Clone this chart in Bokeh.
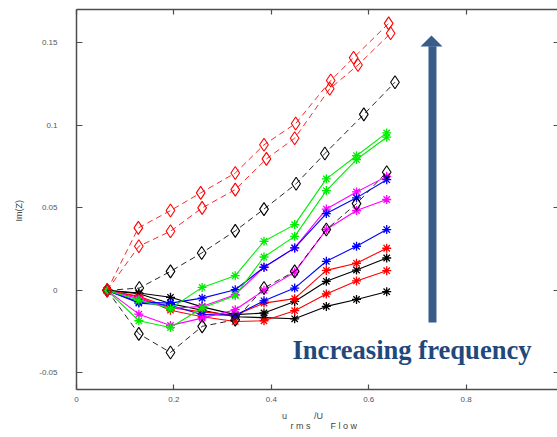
from bokeh.plotting import figure
from bokeh.models import LinearAxis, Range1d, Label, BoxAnnotation, PolyAnnotation, FixedTicker
from bokeh.embed import file_html
from bokeh.resources import INLINE

# ---------------- data ----------------
x_std   = [0.063, 0.128, 0.193, 0.258, 0.326, 0.385, 0.448, 0.513, 0.575, 0.637]
x_red_a = [0.063, 0.127, 0.193, 0.255, 0.326, 0.385, 0.450, 0.522, 0.569, 0.641]
x_red_b = [0.063, 0.128, 0.193, 0.258, 0.326, 0.390, 0.448, 0.520, 0.578, 0.645]
x_blk_c = [0.063, 0.129, 0.193, 0.257, 0.326, 0.385, 0.451, 0.510, 0.590, 0.654]

# dashed lines, diamond markers
red_dia_a = [0, 0.0378, 0.0483, 0.0590, 0.0710, 0.0881, 0.1010, 0.1270, 0.1408, 0.1616]
red_dia_b = [0, 0.0267, 0.0358, 0.0499, 0.0610, 0.0796, 0.0921, 0.1220, 0.1364, 0.1556]
blk_dia_c = [0, 0.0014, 0.0115, 0.0226, 0.0360, 0.0492, 0.0645, 0.0828, 0.1065, 0.1260]
blk_dia_d = [0, -0.0263, -0.0376, -0.0218, -0.0178, 0.0014, 0.0115, 0.0368, 0.0525, 0.0715]

# solid lines, star markers
grn_e = [0, -0.0060, -0.0110, 0.0018, 0.0089, 0.0297, 0.0398, 0.0675, 0.0815, 0.0953]
grn_f = [0, -0.0184, -0.0225, -0.0107, -0.0032, 0.0202, 0.0327, 0.0604, 0.0792, 0.0927]
blu_g = [0, -0.0070, -0.0077, -0.0047, 0.0004, 0.0140, 0.0257, 0.0465, 0.0560, 0.0670]
mag_h = [0, -0.0050, -0.0110, -0.0097, -0.0026, 0.0140, 0.0257, 0.0492, 0.0596, 0.0690]
mag_i = [0, -0.0144, -0.0212, -0.0168, -0.0117, 0.0000, 0.0110, 0.0368, 0.0483, 0.0550]
blu_j = [0, -0.0077, -0.0090, -0.0147, -0.0150, -0.0063, 0.0014, 0.0176, 0.0267, 0.0368]
red_k = [0, -0.0036, -0.0105, -0.0130, -0.0150, -0.0077, -0.0050, 0.0121, 0.0164, 0.0255]
red_l = [0, -0.0040, -0.0120, -0.0160, -0.0188, -0.0184, -0.0123, -0.0022, 0.0057, 0.0119]
blk_m = [0, -0.0016, -0.0042, -0.0100, -0.0147, -0.0137, -0.0067, 0.0055, 0.0123, 0.0196]
blk_n = [0, -0.0020, -0.0080, -0.0120, -0.0160, -0.0165, -0.0172, -0.0097, -0.0055, -0.0008]

x_ticks = [0, 0.2, 0.4, 0.6, 0.8]
y_ticks = [-0.05, 0, 0.05, 0.1, 0.15]
y_tick_labels = {-0.05: "-0.05", 0: "0", 0.05: "0.05", 0.1: "0.1", 0.15: "0.15"}
x_tick_labels = {0: "0", 0.2: "0.2", 0.4: "0.4", 0.6: "0.6", 0.8: "0.8"}

annot_text = "Increasing frequency"
y_label = "Im(Z)"
x_label_main = "u\u2003\u2003\u2003/U\u2003\u2003\u2003\u2009"
x_label_sub = "\u2003\u2002r m s\u2003\u2003\u2009F l o w"

# ---------------- figure ----------------
p = figure(width=557, height=437, output_backend="svg", toolbar_location=None,
           x_range=Range1d(0, 0.9877), y_range=Range1d(-0.06, 0.17),
           min_border_left=76, min_border_right=0, min_border_top=9, min_border_bottom=48,
           background_fill_color="white", border_fill_color="white")
p.outline_line_color = None
p.xgrid.visible = False
p.ygrid.visible = False

AX_COL = "#4d4d4d"
LBL_COL = "#555555"
FONT = "Liberation Sans"

for ax in p.xaxis:
    ax.ticker = FixedTicker(ticks=x_ticks)
    ax.major_label_overrides = x_tick_labels
    ax.major_tick_in = 5
    ax.major_tick_out = 0
    ax.minor_tick_in = 0
    ax.minor_tick_out = 0
    ax.axis_line_color = AX_COL
    ax.axis_line_width = 1.5
    ax.major_tick_line_color = AX_COL
    ax.major_tick_line_width = 1.2
    ax.major_label_text_font = FONT
    ax.major_label_text_font_size = "8px"
    ax.major_label_text_color = LBL_COL
    ax.major_label_standoff = 7
    ax.axis_label = x_label_main + "\n" + x_label_sub
    ax.axis_label_text_font = FONT
    ax.axis_label_text_font_size = "9px"
    ax.axis_label_text_font_style = "normal"
    ax.axis_label_text_color = "#444444"
    ax.axis_label_text_line_height = 1.05
    ax.axis_label_standoff = 6

for ax in p.yaxis:
    ax.ticker = FixedTicker(ticks=y_ticks)
    ax.major_label_overrides = y_tick_labels
    ax.major_tick_in = 6
    ax.major_tick_out = 0
    ax.minor_tick_in = 0
    ax.minor_tick_out = 0
    ax.axis_line_color = AX_COL
    ax.axis_line_width = 1.5
    ax.major_tick_line_color = AX_COL
    ax.major_tick_line_width = 1.2
    ax.major_label_text_font = FONT
    ax.major_label_text_font_size = "8px"
    ax.major_label_text_color = LBL_COL
    ax.major_label_standoff = 19
    ax.axis_label = y_label + "\u2003\u2003\u2002"
    ax.axis_label_text_font = FONT
    ax.axis_label_text_font_size = "9px"
    ax.axis_label_text_font_style = "normal"
    ax.axis_label_text_color = "#444444"
    ax.axis_label_standoff = 12

top = LinearAxis(ticker=FixedTicker(ticks=x_ticks), major_tick_in=5, major_tick_out=0,
                 minor_tick_in=0, minor_tick_out=0, axis_line_color=AX_COL, axis_line_width=1.5,
                 major_tick_line_color=AX_COL, major_tick_line_width=1.2,
                 major_label_text_color=None, major_label_text_font_size="1px",
                 major_label_standoff=0)
p.add_layout(top, "above")
right = LinearAxis(ticker=FixedTicker(ticks=y_ticks), major_tick_in=4, major_tick_out=0,
                   minor_tick_in=0, minor_tick_out=0, axis_line_color=None,
                   major_tick_line_color=AX_COL, major_tick_line_width=1.2,
                   major_label_text_color=None, major_label_text_font_size="1px",
                   major_label_standoff=0)
p.add_layout(right, "right")

# ---------------- star series (solid) ----------------
stars = [
    (x_std, blk_n, "#000000"), (x_std, red_l, "#ff0000"), (x_std, blk_m, "#000000"),
    (x_std, red_k, "#ff0000"), (x_std, blu_j, "#0000ff"), (x_std, mag_i, "#ff00ff"),
    (x_std, mag_h, "#ff00ff"), (x_std, blu_g, "#0000ff"), (x_std, grn_f, "#00ee00"),
    (x_std, grn_e, "#00ee00"),
]
for xs, ys, c in stars:
    p.line(xs, ys, line_color=c, line_width=1.1)
    p.scatter(xs, ys, marker="asterisk", size=9, line_color=c, line_width=1.3)

# ---------------- diamond series (dashed) ----------------
dias = [
    (x_std, blk_dia_d, "#000000"), (x_blk_c, blk_dia_c, "#000000"),
    (x_red_b, red_dia_b, "#ff0000"), (x_red_a, red_dia_a, "#ff0000"),
]
for xs, ys, c in dias:
    p.line(xs, ys, line_color=c, line_width=1, line_dash="6 4", line_alpha=0.85)
    p.scatter(xs, ys, marker="diamond", size=13, line_color=c, fill_color=None, line_width=1.1)

# ---------------- annotation arrow + text ----------------
ARROW = "#385d8a"
p.add_layout(BoxAnnotation(left=0.7228, right=0.7392, bottom=-0.0194, top=0.1478,
                           fill_color=ARROW, fill_alpha=1, line_color=None))
p.add_layout(PolyAnnotation(xs=[0.7064, 0.7515, 0.7290], ys=[0.1476, 0.1476, 0.1543],
                            fill_color=ARROW, fill_alpha=1, line_color=None))
p.add_layout(Label(x=0.4435, y=-0.0358, text=annot_text, text_font="Liberation Serif",
                   text_font_style="bold", text_font_size="26.6px", text_color="#1f497d",
                   text_baseline="alphabetic"))

open("out.html", "w").write(file_html(p, INLINE))
